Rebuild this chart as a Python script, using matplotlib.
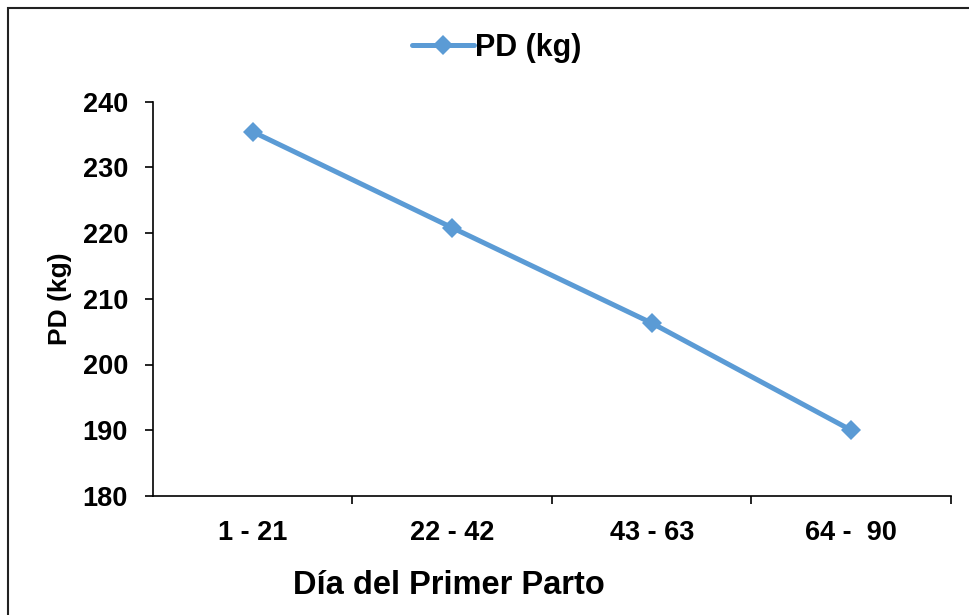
import matplotlib
matplotlib.use("Agg")
import matplotlib.pyplot as plt
from matplotlib.patches import Rectangle

categories = ["1 - 21", "22 - 42", "43 - 63", "64 -  90"]
pd_kg = [235.4, 220.8, 206.3, 190.0]
series_name = "PD (kg)"
x_title = "Día del Primer Parto"
y_title = "PD (kg)"
y_ticks = [180, 190, 200, 210, 220, 230, 240]

plt.rcParams['font.family'] = ['Liberation Sans', 'DejaVu Sans']
plt.rcParams['font.weight'] = 'bold'

fig = plt.figure(figsize=(9.7, 6.15), dpi=100)
ax = fig.add_axes([153/970, 1-496/615, (951-153)/970, (496-101.5)/615])

color = "#5B9BD5"
x = list(range(len(categories)))
ax.plot(x, pd_kg, color=color, lw=3.6, marker='D', markersize=10.5,
        markeredgewidth=0, label=series_name, solid_capstyle='round')

ax.set_xlim(-0.5, len(categories) - 0.5)
ax.set_ylim(180, 240)
ax.set_yticks(y_ticks)
ax.set_yticklabels([str(t) for t in y_ticks], fontsize=19.5, fontweight='bold')

# category labels at centers, tick marks at boundaries
ax.set_xticks([i + 0.5 for i in range(len(categories))])
ax.set_xticklabels([])
ax.set_xticks(x, minor=True)
ax.set_xticklabels(categories, minor=True, fontsize=19.5, fontweight='bold')
ax.tick_params(axis='x', which='major', direction='out', length=6, width=1.2)
ax.tick_params(axis='x', which='minor', length=0, pad=17)
ax.tick_params(axis='y', direction='out', length=6, width=1.2, pad=12)

for s in ['top', 'right']:
    ax.spines[s].set_visible(False)
for s in ['left', 'bottom']:
    ax.spines[s].set_linewidth(1.2)

fig.text(449/970, 1-586/615, x_title, fontsize=23.5, fontweight='bold',
         ha='center', va='center')
ax.set_ylabel(y_title, fontsize=19, fontweight='bold', labelpad=8)

leg = fig.legend(loc='center', bbox_to_anchor=(497/970, 1-48/615), frameon=False,
                 prop={'size': 22, 'weight': 'bold'}, handlelength=2.0,
                 handletextpad=0.05)

fig.patches.append(Rectangle((8.5/970, -0.1), 1.2, 1 - 7.5/615 + 0.1,
                             transform=fig.transFigure, fill=False,
                             edgecolor='#222222', lw=1.5))

fig.savefig("out.png", dpi=100)
